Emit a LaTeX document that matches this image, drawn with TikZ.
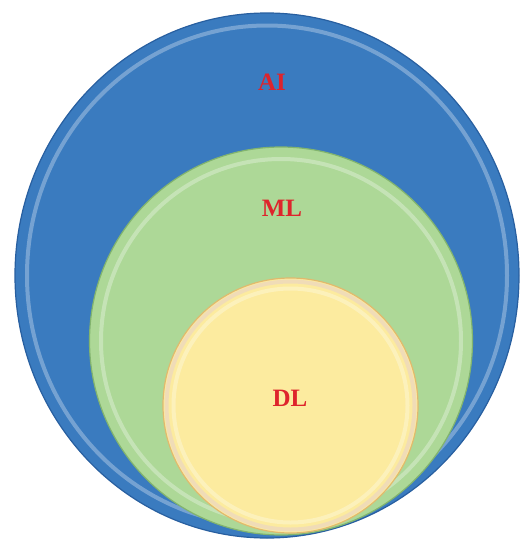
\documentclass[tikz,border=0pt]{standalone}
\usepackage{fontspec}
\setmainfont{Liberation Serif}
\usepackage{xcolor}
\usepackage{tikz}
\usetikzlibrary{shapes.geometric}

\definecolor{aiblue}{RGB}{58,123,191}
\definecolor{aiedge}{RGB}{40,95,160}
\definecolor{mlgreen}{RGB}{173,216,151}
\definecolor{mledge}{RGB}{130,180,110}
\definecolor{dlyellow}{RGB}{252,235,159}
\definecolor{dledge}{RGB}{225,185,110}
\definecolor{tagred}{RGB}{222,36,44}

\begin{document}
\begin{tikzpicture}[x=1pt, y=-1pt,
  disc/.style={ellipse, inner sep=0pt, outer sep=0pt, line width=1.2pt},
  shine/.style={white, opacity=0.3, line width=4pt},
  tag/.style={text=tagred, font=\fontsize{25}{27}\selectfont\bfseries}]
  \useasboundingbox (0,0) rectangle (521,541);

  % AI: outer disc
  \node[disc, fill=aiblue, draw=aiedge, minimum width=504pt, minimum height=525pt] (ai) at (267,275.5) {};
  \draw[shine] (267,275.5) ellipse [x radius=240, y radius=250];

  % ML: middle disc
  \node[disc, fill=mlgreen, draw=mledge, minimum width=383pt, minimum height=388pt] (ml) at (281,341) {};
  \draw[shine] (281,341) ellipse [x radius=180, y radius=182];

  % DL: inner disc
  \node[disc, fill=dlyellow, draw=dledge, minimum width=255pt, minimum height=255pt] (dl) at (290.5,405.5) {};
  \draw[dledge!50, line width=4pt] (290.5,405.5) ellipse [x radius=124, y radius=124];
  \draw[shine] (290.5,405.5) ellipse [x radius=117, y radius=117];

  % labels
  \node[tag] (aitag) at (272,82) {AI};
  \node[tag] (mltag) at (282,208) {ML};
  \node[tag] (dltag) at (290,398) {DL};
\end{tikzpicture}
\end{document}
